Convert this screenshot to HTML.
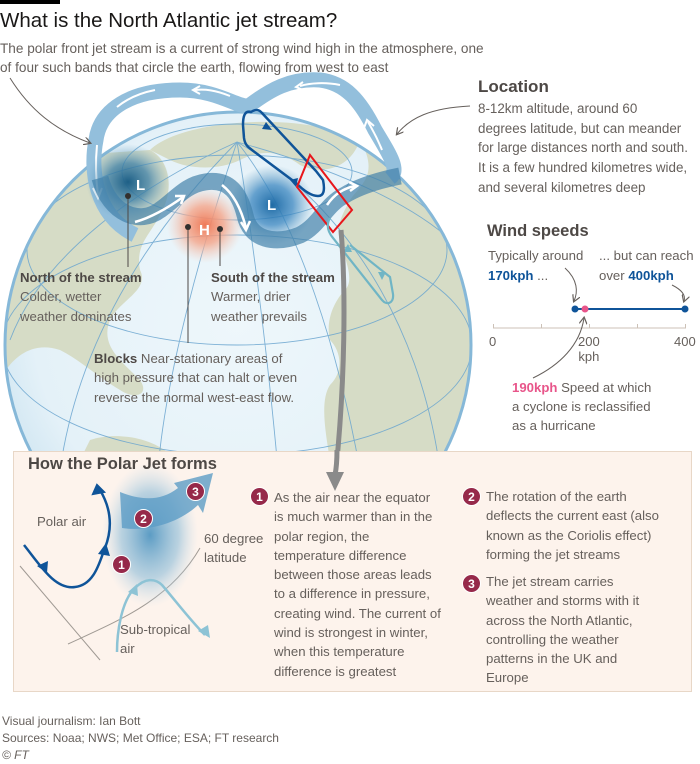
<!DOCTYPE html>
<html><head><meta charset="utf-8"><style>
*{margin:0;padding:0;box-sizing:border-box}
body{width:700px;height:764px;background:#fff;position:relative;overflow:hidden;font-family:"Liberation Sans",sans-serif;color:#66605c}
.t{position:absolute;white-space:nowrap}
.b{font-weight:bold;color:#4d4845}
.bl{color:#0f5499;font-weight:bold}
.pk{color:#e8558a;font-weight:bold}
.n{display:inline-block;width:19px;height:19px;border-radius:50%;background:#96294a;color:#fff;font-weight:bold;font-size:12px;text-align:center;line-height:19px;position:absolute;border:1.5px solid #fff}
</style></head><body>
<div style="position:absolute;left:0;top:0;width:60px;height:4px;background:#000"></div>
<div class="t" style="left:0;top:9px;font-size:20.5px;color:#1a1817">What is the North Atlantic jet stream?</div>
<div class="t" style="left:0;top:39px;font-size:13.6px;line-height:19px;color:#66605c">The polar front jet stream is a current of strong wind high in the atmosphere, one<br>of four such bands that circle the earth, flowing from west to east</div>

<svg style="position:absolute;left:0;top:0" width="700" height="764">
<defs>
<radialGradient id="gl" cx="0.5" cy="0.45" r="0.55"><stop offset="0" stop-color="#eef7fb"/><stop offset="0.8" stop-color="#e4f1f8"/><stop offset="1" stop-color="#d0e6f2"/></radialGradient>
<radialGradient id="lo" cx="0.5" cy="0.5" r="0.5"><stop offset="0" stop-color="#1d5f86"/><stop offset="0.5" stop-color="#3d7fa6" stop-opacity="0.75"/><stop offset="1" stop-color="#6ba3c6" stop-opacity="0"/></radialGradient>
<radialGradient id="lo2" cx="0.5" cy="0.5" r="0.5"><stop offset="0" stop-color="#1f6ba5"/><stop offset="0.5" stop-color="#3a86c0" stop-opacity="0.75"/><stop offset="1" stop-color="#6ba3c6" stop-opacity="0"/></radialGradient>
<radialGradient id="hi" cx="0.5" cy="0.5" r="0.5"><stop offset="0" stop-color="#ef7a58"/><stop offset="0.5" stop-color="#f4a58a" stop-opacity="0.8"/><stop offset="1" stop-color="#f7c9b7" stop-opacity="0"/></radialGradient>
<radialGradient id="pj" cx="0.5" cy="0.5" r="0.5"><stop offset="0" stop-color="#5c9cc4"/><stop offset="0.6" stop-color="#8dbcd8" stop-opacity="0.6"/><stop offset="1" stop-color="#c5dceb" stop-opacity="0"/></radialGradient>
<marker id="ah" markerWidth="8" markerHeight="8" refX="6" refY="4" orient="auto"><path d="M0,0 L7,4 L0,8" fill="none" stroke="#66605c" stroke-width="1.2"/></marker>
<clipPath id="gc"><circle cx="238" cy="345" r="233"/></clipPath>
</defs>
<circle cx="238" cy="345" r="233" fill="url(#gl)"/>
<g clip-path="url(#gc)" fill="#d6dcc6">
<path d="M0,160 L150,150 C170,160 175,190 160,215 C150,235 135,245 140,270 C150,290 120,300 110,320 C100,345 120,360 140,380 C150,395 135,400 120,390 C95,375 80,360 60,350 C30,340 10,360 0,380 Z"/>
<path d="M90,440 C120,430 160,440 175,460 L80,460 Z"/>
<path d="M150,150 C180,120 300,110 360,140 C350,170 320,175 300,165 C280,150 260,150 240,160 C220,170 190,170 170,160 Z"/>
<path d="M360,140 C420,160 470,220 480,300 L480,460 L330,460 C325,430 320,400 330,385 C345,370 340,350 330,340 C325,320 335,300 345,290 C355,280 345,260 340,240 C335,225 345,210 350,200 C360,185 380,175 360,140 Z"/>
<g fill="none" stroke="#6aa5cf" stroke-width="0.9" opacity="0.85">
<ellipse cx="237" cy="172" rx="115" ry="48"/>
<ellipse cx="237" cy="250" rx="210" ry="95"/>
<ellipse cx="237" cy="345" rx="235" ry="110"/>
<path d="M237,142 C255,250 270,380 278,470"/>
<path d="M237,142 C200,250 165,380 158,470"/>
<path d="M237,142 C160,220 80,330 60,470"/>
<path d="M237,142 C130,190 40,260 10,340"/>
<path d="M237,142 C300,220 340,360 360,470"/>
<path d="M237,142 C340,200 420,320 440,470"/>
<path d="M237,142 C340,170 430,210 470,260"/>
</g>
</g>
<circle cx="238" cy="345" r="233" fill="none" stroke="#86b8d8" stroke-width="3"/>
<path d="M135,235 C95,215 90,170 96,140 C100,110 130,90 180,90 C220,90 240,110 250,105 C270,90 290,78 320,80 C345,83 360,100 375,130 C390,155 400,170 390,178" fill="none" stroke="#93bfdc" stroke-width="15"/>
<path d="M97,145 C95,165 96,180 98,195" fill="none" stroke="#fff" stroke-width="2"/>
<path d="M93,188 L98,198 L102,188" fill="none" stroke="#fff" stroke-width="2"/>
<path d="M230,96 C215,90 205,89 195,90" fill="none" stroke="#fff" stroke-width="2"/>
<path d="M200,86 L193,90 L200,94" fill="none" stroke="#fff" stroke-width="2"/>
<path d="M155,90 C140,93 128,98 117,107" fill="none" stroke="#fff" stroke-width="2"/>
<path d="M340,85 C325,82 310,83 300,86" fill="none" stroke="#fff" stroke-width="2"/>
<path d="M303,82 L296,87 L303,90" fill="none" stroke="#fff" stroke-width="2"/>
<path d="M382,150 C378,140 374,132 368,122" fill="none" stroke="#fff" stroke-width="2"/>
<path d="M364,128 L367,120 L374,126" fill="none" stroke="#fff" stroke-width="2"/>
<ellipse cx="128" cy="182" rx="42" ry="38" fill="url(#lo)"/>
<ellipse cx="272" cy="205" rx="42" ry="40" fill="url(#lo2)"/>
<ellipse cx="205" cy="225" rx="38" ry="38" fill="url(#hi)"/>
<path d="M100,178 C110,215 140,225 160,210 C175,200 185,185 205,182 C230,178 240,195 245,215 C250,240 275,245 300,235 C320,225 325,205 345,195 C360,186 380,180 400,176" fill="none" stroke="#3f7fa8" stroke-width="17" opacity="0.68"/>
<path d="M135,222 C150,218 168,208 183,197" stroke="#fff" stroke-width="2.5" fill="none"/>
<path d="M175,196 L184,196 L181,204" stroke="#fff" stroke-width="2.5" fill="none"/>
<path d="M222,185 C235,195 242,212 246,228" stroke="#fff" stroke-width="2.5" fill="none"/>
<path d="M241,222 L246,230 L250,221" stroke="#fff" stroke-width="2.5" fill="none"/>
<path d="M327,205 C335,193 345,188 355,186" stroke="#fff" stroke-width="2.5" fill="none"/>
<path d="M349,182 L357,186 L350,191" stroke="#fff" stroke-width="2.5" fill="none"/>
<text x="136" y="190" font-size="15" font-weight="bold" fill="#fff" font-family="Liberation Sans">L</text>
<text x="267" y="210" font-size="15" font-weight="bold" fill="#fff" font-family="Liberation Sans">L</text>
<text x="199" y="235" font-size="15" font-weight="bold" fill="#fff" font-family="Liberation Sans">H</text>
<path d="M251,112 C244,110 243,118 243,125 L244,138 C245,145 248,147 252,150 L296,183 C305,192 312,196 318,196 C324,196 325,190 323,180 L316,171 L262,113 C258,108 254,110 251,112 Z" fill="none" stroke="#0f5499" stroke-width="2.5"/>
<path d="M262,129 L266,122 L272,130" fill="#0f5499"/>
<path d="M290,180 L296,187 L298,178 Z" fill="#0f5499"/>
<path d="M297,187 L310,155 L352,210 L333,232 Z" fill="none" stroke="#e8161b" stroke-width="2"/>
<path d="M330,218 C326,225 328,232 333,238 L382,300 C387,306 394,303 393,294 L390,277 L350,245" fill="none" stroke="#70b5c5" stroke-width="2.2"/>
<path d="M343,252 L348,244 L352,252 Z" fill="#70b5c5"/>
<path d="M378,272 L382,280 L386,272 Z" fill="#70b5c5"/>
<path d="M341,230 C346,290 345,380 336,470" fill="none" stroke="#8a8a8a" stroke-width="5"/>
<path d="M10,78 C30,110 55,130 90,143" fill="none" stroke="#66605c" stroke-width="1" marker-end="url(#ah)"/>
<path d="M470,106 C430,108 410,118 397,134" fill="none" stroke="#66605c" stroke-width="1" marker-end="url(#ah)"/>
<line x1="128" y1="196" x2="128" y2="267" stroke="#4d4845"/><circle cx="128" cy="196" r="3" fill="#33302e"/>
<line x1="188" y1="227" x2="188" y2="343" stroke="#4d4845"/><circle cx="188" cy="227" r="3" fill="#33302e"/>
<line x1="220" y1="229" x2="220" y2="266" stroke="#4d4845"/><circle cx="220" cy="229" r="3" fill="#33302e"/>
<rect x="13.5" y="451.5" width="678" height="240" fill="#fdf3ec" stroke="#e8d7c7"/>
<path d="M337,450 C337,460 336,470 335,475" fill="none" stroke="#8a8a8a" stroke-width="5"/>
<path d="M326,472 L335,491 L344,472 Z" fill="#8a8a8a"/>
<line x1="20" y1="566" x2="100" y2="660" stroke="#a09a94"/>
<path d="M68,644 C120,620 170,600 200,548" fill="none" stroke="#a09a94"/>
<ellipse cx="150" cy="535" rx="48" ry="72" fill="url(#pj)"/>
<path d="M120,492 C140,500 160,502 178,488 L174,483 L213,473 L203,513 L198,505 C180,522 150,532 122,528 Z" fill="#5d9cc5" opacity="0.8"/>
<path d="M24,545 C40,565 55,590 75,587 C95,585 100,560 105,548 C112,530 112,510 100,490" fill="none" stroke="#0f5499" stroke-width="2.5"/>
<path d="M93,494 L97,485 L104,492 Z" fill="#0f5499" stroke="#0f5499" stroke-width="2"/>
<path d="M37,566 L47,573 L48,561 Z" fill="#0f5499"/>
<path d="M98,554 L106,543 L110,556 Z" fill="#0f5499"/>
<path d="M117,652 C117,630 122,600 135,588 C145,578 155,578 162,585 C175,600 190,620 205,635" fill="none" stroke="#8dc3d5" stroke-width="2.5"/>
<path d="M198,631 L210,638 L208,625 Z" fill="#8dc3d5"/>
<path d="M128,592 L137,584 L138,596 Z" fill="#8dc3d5"/>
<line x1="493" y1="328" x2="686" y2="328" stroke="#ccc1b7"/>
<g stroke="#ccc1b7"><line x1="493.5" y1="324" x2="493.5" y2="328"/><line x1="541.5" y1="324" x2="541.5" y2="328"/><line x1="589.5" y1="324" x2="589.5" y2="328"/><line x1="637.5" y1="324" x2="637.5" y2="328"/><line x1="685.5" y1="324" x2="685.5" y2="328"/></g>
<line x1="575" y1="309" x2="686" y2="309" stroke="#0f5499" stroke-width="2"/>
<circle cx="575" cy="309" r="3.5" fill="#0f5499"/><circle cx="685" cy="309" r="3.5" fill="#0f5499"/>
<circle cx="585" cy="309" r="3.5" fill="#e8558a"/>
<path d="M565,268 C578,280 578,292 574,301" fill="none" stroke="#66605c" marker-end="url(#ah)"/>
<path d="M672,285 C682,290 686,295 684,301" fill="none" stroke="#66605c" marker-end="url(#ah)"/>
<path d="M533,378 C560,365 580,345 584,318" fill="none" stroke="#66605c" marker-end="url(#ah)"/>
</svg>

<div class="t" style="left:478px;top:77px;font-size:17px;font-weight:bold;color:#4d4845">Location</div>
<div class="t" style="left:478px;top:99px;font-size:13.4px;line-height:19.7px">8-12km altitude, around 60<br>degrees latitude, but can meander<br>for large distances north and south.<br>It is a few hundred kilometres wide,<br>and several kilometres deep</div>

<div class="t" style="left:20px;top:268px;font-size:13.2px;line-height:19.3px"><span class="b">North of the stream</span><br>Colder, wetter<br>weather dominates</div>
<div class="t" style="left:211px;top:268px;font-size:13.2px;line-height:19.3px"><span class="b">South of the stream</span><br>Warmer, drier<br>weather prevails</div>
<div class="t" style="left:94px;top:349px;font-size:13.2px;line-height:19.3px"><span class="b">Blocks</span> Near-stationary areas of<br>high pressure that can halt or even<br>reverse the normal west-east flow.</div>

<div class="t" style="left:487px;top:222px;font-size:16.5px;font-weight:bold;color:#4d4845">Wind speeds</div>
<div class="t" style="left:488px;top:246px;font-size:13.2px;line-height:19.5px">Typically around<br><span class="bl">170kph</span> ...</div>
<div class="t" style="left:599px;top:246px;font-size:13.2px;line-height:19.5px">... but can reach<br>over <span class="bl">400kph</span></div>
<div class="t" style="left:489px;top:334px;font-size:13px">0</div>
<div class="t" style="left:578px;top:334px;font-size:13px;line-height:15px;text-align:center">200<br>kph</div>
<div class="t" style="left:674px;top:334px;font-size:13px">400</div>
<div class="t" style="left:512px;top:378px;font-size:13.2px;line-height:19px"><span class="pk">190kph</span> Speed at which<br>a cyclone is reclassified<br>as a hurricane</div>

<div class="t" style="left:28px;top:455px;font-size:16.5px;font-weight:bold;color:#4d4845">How the Polar Jet forms</div>
<div class="t" style="left:37px;top:514px;font-size:13.2px">Polar air</div>
<div class="t" style="left:204px;top:529px;font-size:13.2px;line-height:19px">60 degree<br>latitude</div>
<div class="t" style="left:120px;top:620px;font-size:13.2px;line-height:19px">Sub-tropical<br>air</div>
<span class="n" style="left:186px;top:482px">3</span>
<span class="n" style="left:134px;top:509px">2</span>
<span class="n" style="left:112px;top:555px">1</span>

<span class="n" style="left:250px;top:487px">1</span>
<div class="t" style="left:274px;top:488px;font-size:13.2px;line-height:19.3px">As the air near the equator<br>is much warmer than in the<br>polar region, the<br>temperature difference<br>between those areas leads<br>to a difference in pressure,<br>creating wind. The current of<br>wind is strongest in winter,<br>when this temperature<br>difference is greatest</div>
<span class="n" style="left:462px;top:487px">2</span>
<div class="t" style="left:486px;top:487px;font-size:13.2px;line-height:19.3px">The rotation of the earth<br>deflects the current east (also<br>known as the Coriolis effect)<br>forming the jet streams</div>
<span class="n" style="left:462px;top:574px">3</span>
<div class="t" style="left:486px;top:572px;font-size:13.2px;line-height:19.3px">The jet stream carries<br>weather and storms with it<br>across the North Atlantic,<br>controlling the weather<br>patterns in the UK and<br>Europe</div>

<div class="t" style="left:2px;top:713px;font-size:12px;line-height:17px">Visual journalism: Ian Bott<br>Sources: Noaa; NWS; Met Office; ESA; FT research<br><i>© FT</i></div>
</body></html>
